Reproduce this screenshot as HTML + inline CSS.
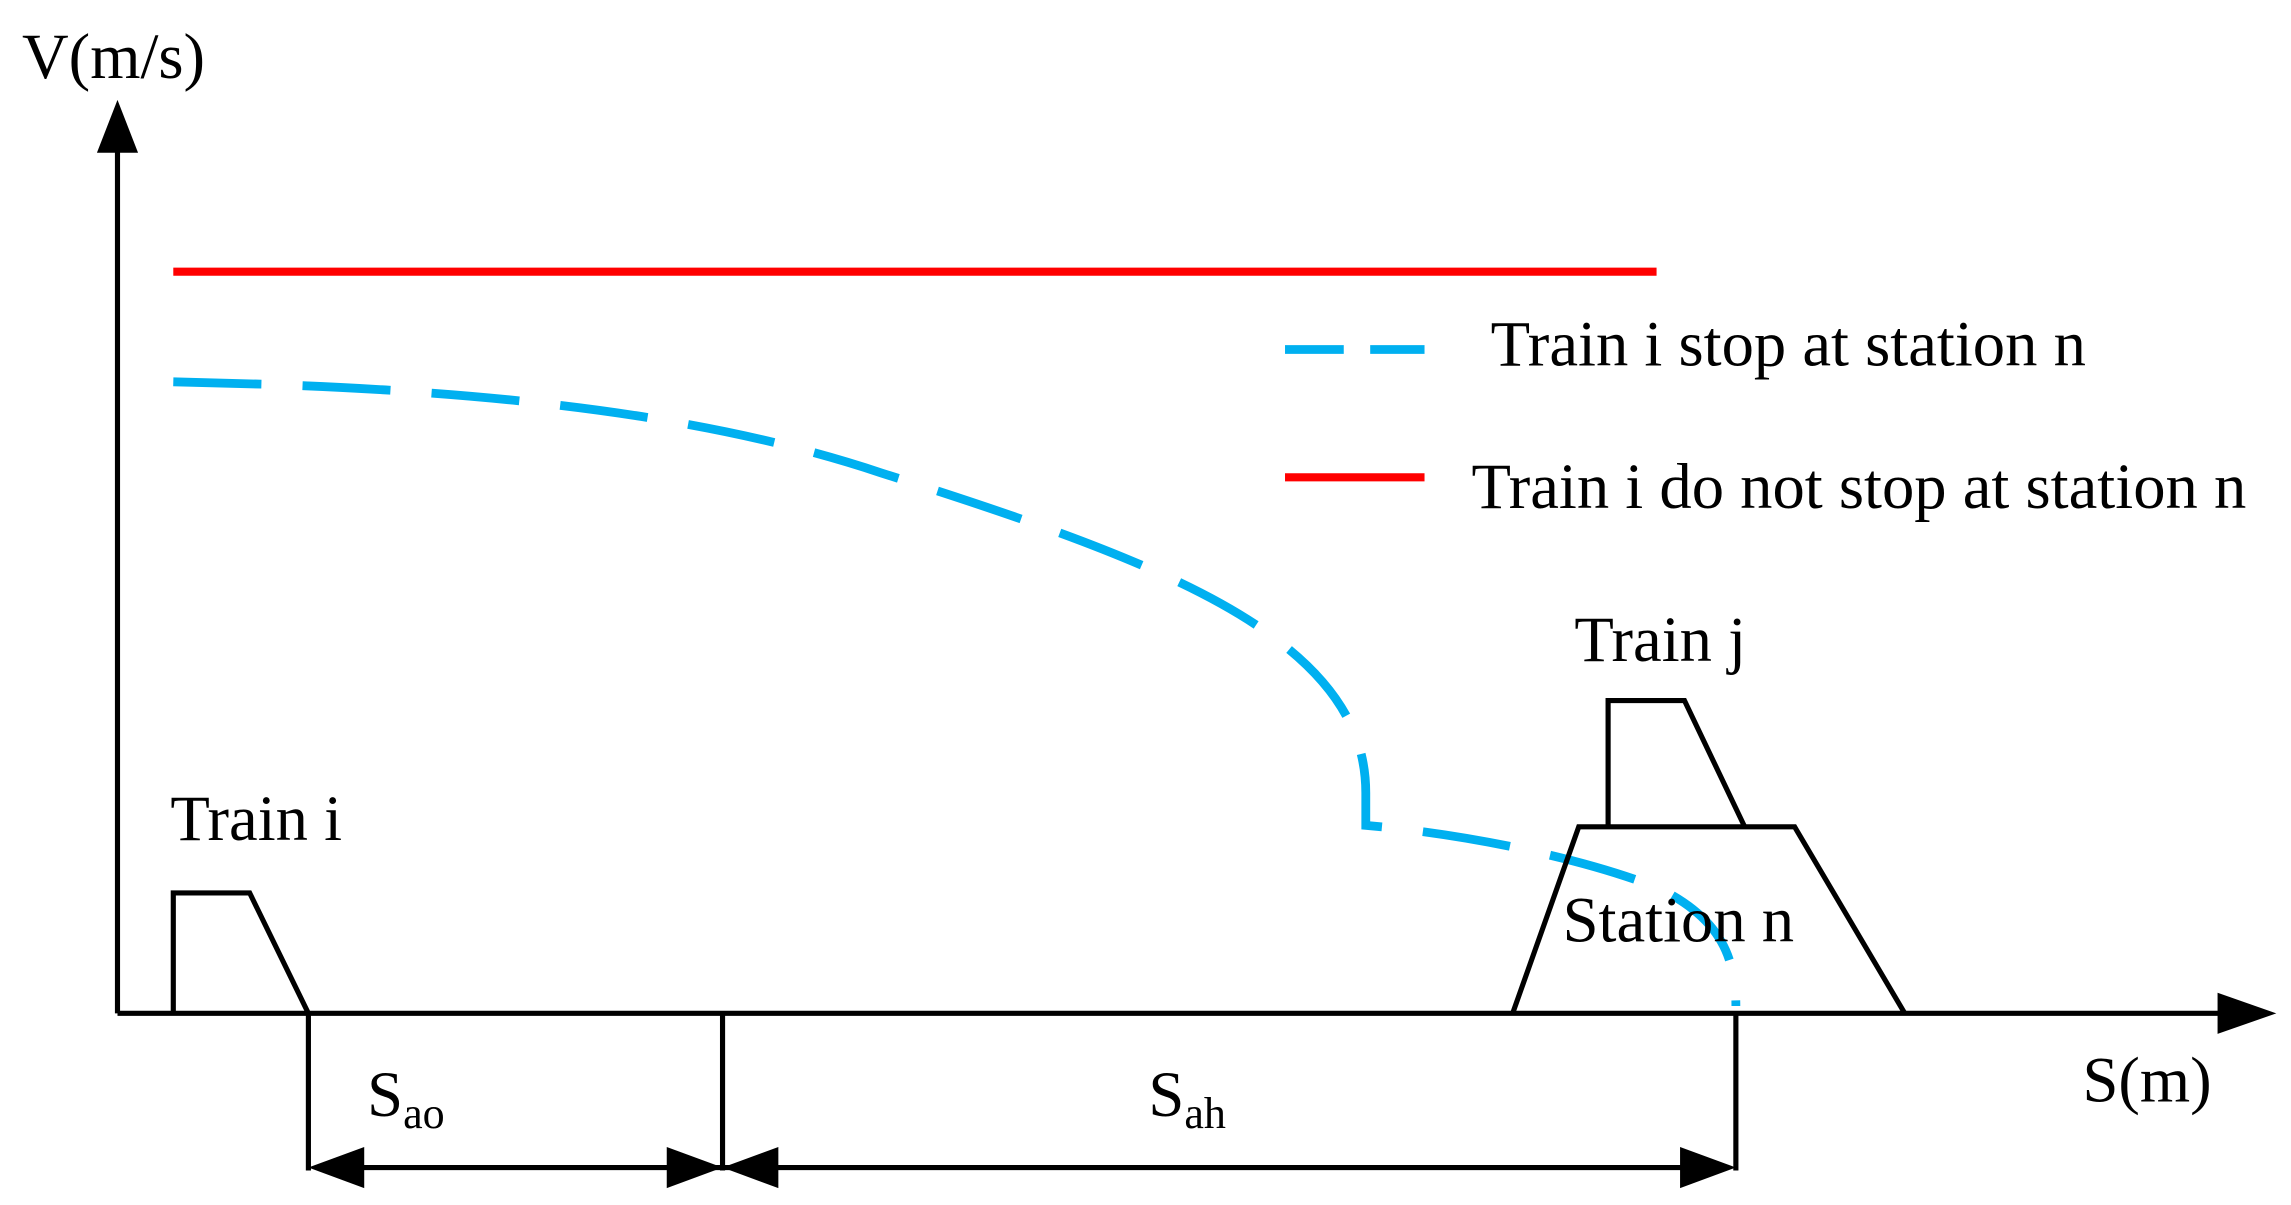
<!DOCTYPE html>
<html><head><meta charset="utf-8"><style>
html,body{margin:0;padding:0;background:#fff;}
svg{display:block;}
text{font-family:"Liberation Serif",serif;font-size:44px;fill:#000;}
</style></head><body>
<svg width="2291" height="1205" viewBox="0 0 1560 820.5" preserveAspectRatio="none" xmlns="http://www.w3.org/2000/svg">
<rect width="1560" height="820.5" fill="#fff"/>
<line x1="80" y1="690" x2="80" y2="95" stroke="#000" stroke-width="3.5"/>
<polygon points="80,68 66,104 94,104" fill="#000"/>
<line x1="80" y1="690" x2="1515" y2="690" stroke="#000" stroke-width="3.5"/>
<polygon points="1550,690 1510,676 1510,704" fill="#000"/>
<text x="15" y="53">V(m/s)</text>
<text x="1418" y="750">S(m)</text>
<line x1="118" y1="185" x2="1128" y2="185" stroke="#ff0000" stroke-width="5.5"/>
<path d="M118,260 C330,264 480,282 600,322 C720,360 820,395 875,440 C915,472 930,505 930,540 L930,562 C1000,568 1080,585 1130,605 C1170,625 1182,650 1182,685" fill="none" stroke="#00b0f0" stroke-width="6" stroke-dasharray="60,28"/>
<line x1="875" y1="238" x2="970" y2="238" stroke="#00b0f0" stroke-width="6" stroke-dasharray="40,18"/>
<text x="1015" y="249">Train i stop at station n</text>
<line x1="875" y1="325" x2="970" y2="325" stroke="#ff0000" stroke-width="5.5"/>
<text x="1002" y="346">Train i do not stop at station n</text>
<polyline points="118,690 118,608 170,608 210,690" fill="none" stroke="#000" stroke-width="3.5"/>
<text x="116" y="572">Train i</text>
<polyline points="1030,690 1075,563 1222,563 1297,690" fill="none" stroke="#000" stroke-width="3.5"/>
<polyline points="1095,563 1095,477 1147,477 1188,563" fill="none" stroke="#000" stroke-width="3.5"/>
<text x="1072" y="450">Train j</text>
<text x="1064" y="641">Station n</text>
<line x1="210" y1="690" x2="210" y2="797" stroke="#000" stroke-width="3.5"/>
<line x1="492" y1="690" x2="492" y2="797" stroke="#000" stroke-width="3.5"/>
<line x1="1182" y1="690" x2="1182" y2="797" stroke="#000" stroke-width="3.5"/>
<line x1="230" y1="795" x2="1160" y2="795" stroke="#000" stroke-width="3.5"/>
<polygon points="210,795 248,781 248,809" fill="#000"/>
<polygon points="492,795 454,781 454,809" fill="#000"/>
<polygon points="492,795 530,781 530,809" fill="#000"/>
<polygon points="1182,795 1144,781 1144,809" fill="#000"/>
<text x="250" y="760">S<tspan font-size="30" dy="8">ao</tspan></text>
<text x="782" y="760">S<tspan font-size="30" dy="8">ah</tspan></text>
</svg>
</body></html>
